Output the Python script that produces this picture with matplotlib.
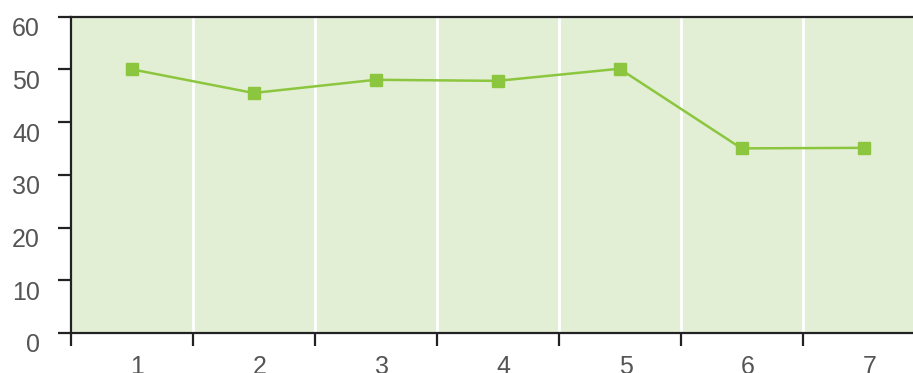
import matplotlib
matplotlib.use("Agg")
import matplotlib.pyplot as plt
import matplotlib.transforms as mtransforms
import numpy as np

categories = ["1", "2", "3", "4", "5", "6", "7"]
values = [50.0, 45.5, 48.0, 47.8, 50.1, 35.0, 35.1]
y_ticks = [0, 10, 20, 30, 40, 50, 60]

plt.rcParams['font.family'] = ['Liberation Sans', 'DejaVu Sans']

W, H = 913, 373
fig = plt.figure(figsize=(W / 100, H / 100), dpi=100)
left, right, top, bottom = 70.5, 913, 16.5, 333
ax = fig.add_axes([left / W, 1 - bottom / H, (right - left) / W, (bottom - top) / H])

x = np.arange(1, len(categories) + 1)
band = (right - left) / 122.0
ax.set_xlim(0.5, 0.5 + band)
ax.set_ylim(0, 60)
ax.set_facecolor('#e2efd5')

# white band separators
for b in np.arange(1.5, len(categories) + 0.5, 1):
    ax.axvline(b, color='white', lw=2, zorder=1)

ax.plot(x, values, color='#8cc63e', lw=1.8, marker='s', markersize=8.5,
        markerfacecolor='#8cc63e', markeredgecolor='#8cc63e', zorder=3)

for s in ['left', 'bottom', 'top']:
    ax.spines[s].set_color('#222222')
    ax.spines[s].set_linewidth(1.6)
ax.spines['right'].set_visible(False)

# major x ticks at band boundaries (no labels), minor ticks at categories (labels)
ax.set_xticks(np.arange(0.5, len(categories) + 0.5, 1))
ax.set_xticklabels([])
ax.set_xticks(x, minor=True)
ax.set_xticklabels(categories, minor=True)
ax.tick_params(axis='x', which='major', direction='out', length=9.5, width=1.6, color='#222222')
ax.tick_params(axis='x', which='minor', length=0, pad=15.5, labelsize=18, labelcolor='#555555')

ax.set_yticks(y_ticks)
ax.set_yticklabels([str(v) for v in y_ticks])
ax.tick_params(axis='y', direction='out', length=9.5, width=1.6, color='#222222',
               pad=12.5, labelsize=18, labelcolor='#555555')

offy = mtransforms.ScaledTranslation(0, -10 / 100, fig.dpi_scale_trans)
for lab in ax.get_yticklabels():
    lab.set_transform(lab.get_transform() + offy)
offx = mtransforms.ScaledTranslation(6 / 100, 0, fig.dpi_scale_trans)
for lab in ax.get_xticklabels(minor=True):
    lab.set_transform(lab.get_transform() + offx)

fig.savefig("out.png", dpi=100)
